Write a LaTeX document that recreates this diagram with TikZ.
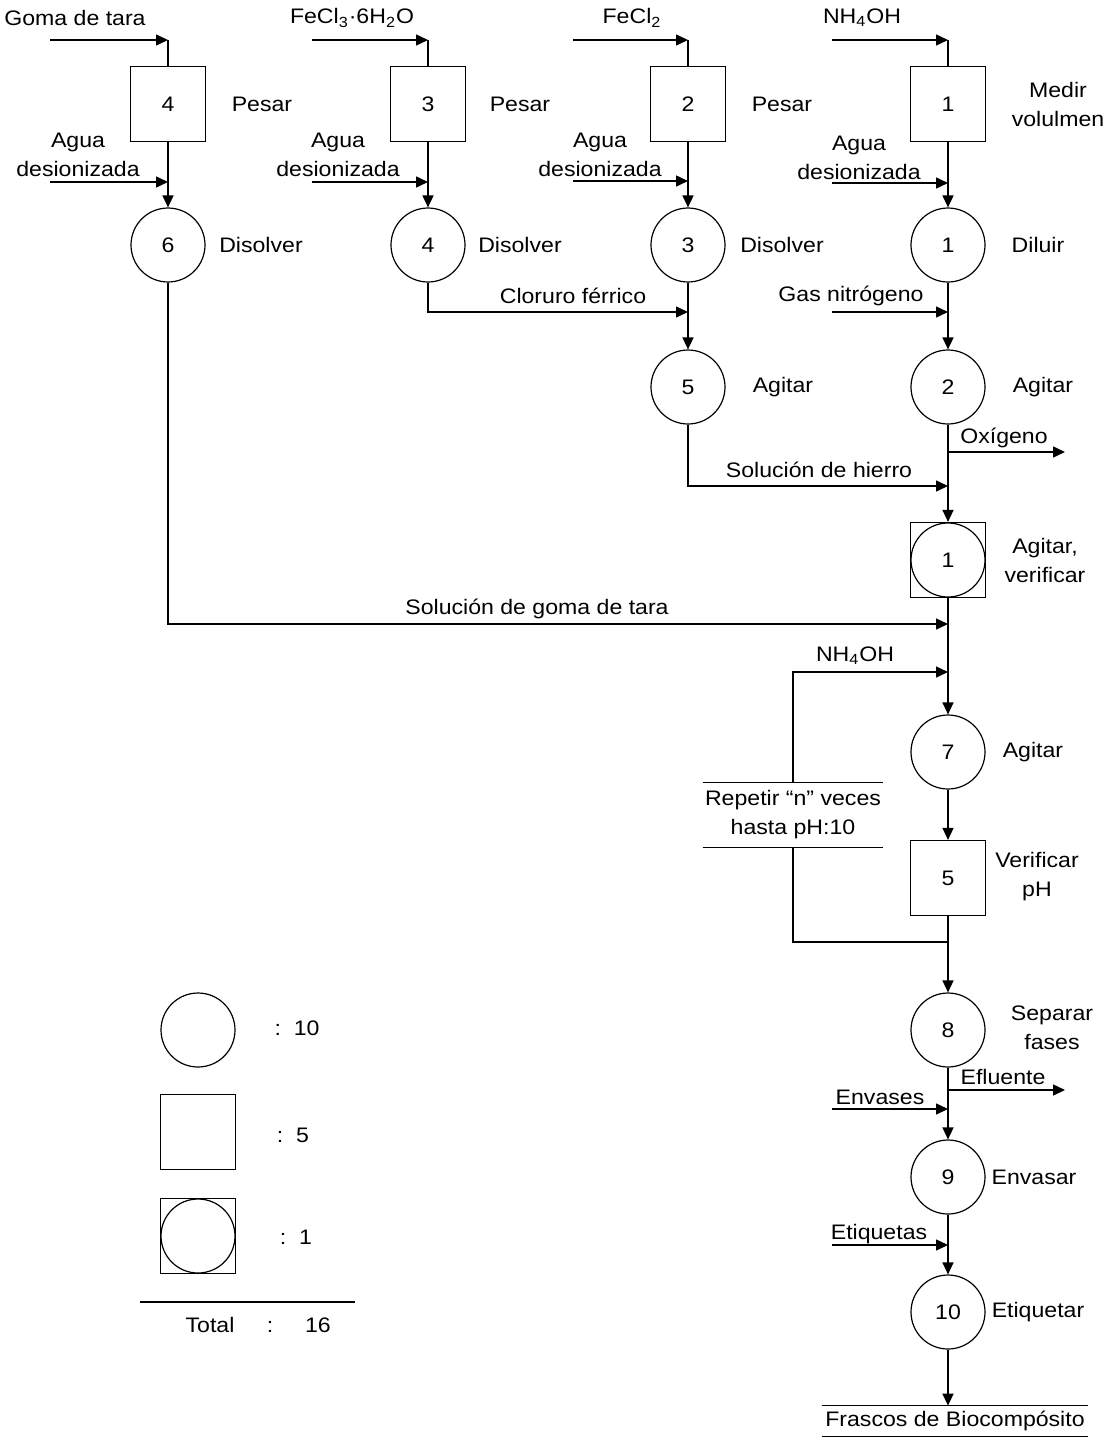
\documentclass[tikz,border=0pt]{standalone}
\usepackage{fontspec}
\setmainfont{Liberation Sans}[FakeStretch=1.1]
\usetikzlibrary{arrows.meta}
\tikzset{
  oper/.style={circle, draw, line width=0.6pt, minimum size=37pt, inner sep=0pt},
  insp/.style={draw, line width=0.6pt, minimum size=37.5pt, inner sep=0pt},
  flujo/.style={line width=0.75pt, -{Triangle[length=6pt,width=5.5pt]}},
  linea/.style={line width=0.75pt},
  txt/.style={inner sep=1pt, align=center},
}
\begin{document}
\begin{tikzpicture}[x=0.5pt, y=-0.5pt, every node/.style={font=\fontsize{10.5}{14.5}\selectfont}]
    \useasboundingbox (0,0) rectangle (1106,1440);

    % Columna 1: goma de tara
    \node[insp] (p4) at (168,104) {4};
    \node (tp4) at (262,104) {Pesar};
    \node[oper] (d6) at (168,245) {6};
    \node (td6) at (261,245) {Disolver};
    \node (lgoma) at (75,18) {Goma de tara};
    \coordinate (e1) at (50,40);
    \draw[flujo] (e1) -- (e1 -| p4);
    \draw[linea] (e1 -| p4) -- (p4.north);
    \node[txt] (la1) at (78,155) {Agua\\desionizada};
    \coordinate (a1) at (50,182);
    \draw[flujo] (a1) -- (a1 -| p4);
    \draw[flujo] (p4) -- (d6);

    % Columna 2: cloruro ferrico
    \node[insp] (p3) at (428,104) {3};
    \node (tp3) at (520,104) {Pesar};
    \node[oper] (d4) at (428,245) {4};
    \node (td4) at (520,245) {Disolver};
    \node (lfe3) at (352,18) {FeCl\textsubscript{3}·6H\textsubscript{2}O};
    \coordinate (e2) at (312,40);
    \draw[flujo] (e2) -- (e2 -| p3);
    \draw[linea] (e2 -| p3) -- (p3.north);
    \node[txt] (la2) at (338,155) {Agua\\desionizada};
    \coordinate (a2) at (312,182);
    \draw[flujo] (a2) -- (a2 -| p3);
    \draw[flujo] (p3) -- (d4);

    % Columna 3: cloruro ferroso
    \node[insp] (p2) at (688,104) {2};
    \node (tp2) at (782,104) {Pesar};
    \node[oper] (d3) at (688,245) {3};
    \node (td3) at (782,245) {Disolver};
    \node (lfe2) at (632,18) {FeCl\textsubscript{2}};
    \coordinate (e3) at (573,40);
    \draw[flujo] (e3) -- (e3 -| p2);
    \draw[linea] (e3 -| p2) -- (p2.north);
    \node[txt] (la3) at (600,155) {Agua\\desionizada};
    \coordinate (a3) at (573,181);
    \draw[flujo] (a3) -- (a3 -| p2);
    \draw[flujo] (p2) -- (d3);

    % Columna 4: hidroxido de amonio
    \node[insp] (p1) at (948,104) {1};
    \node[txt] (tp1) at (1058,104) {Medir\\volulmen};
    \node[oper] (dl1) at (948,245) {1};
    \node (tdl1) at (1038,245) {Diluir};
    \node (lnh) at (862,18) {NH\textsubscript{4}OH};
    \coordinate (e4) at (832,40);
    \draw[flujo] (e4) -- (e4 -| p1);
    \draw[linea] (e4 -| p1) -- (p1.north);
    \node[txt] (la4) at (859,158) {Agua\\desionizada};
    \coordinate (a4) at (832,183);
    \draw[flujo] (a4) -- (a4 -| p1);
    \draw[flujo] (p1) -- (dl1);

    % Mezcla de hierro
    \node[oper] (a5) at (688,387) {5};
    \node (ta5) at (783,387) {Agitar};
    \coordinate (cf) at (688,312);
    \draw[flujo] (d4.south) |- (cf);
    \node (lcf) at (573,296) {Cloruro férrico};
    \draw[flujo] (d3) -- (a5);
    \node[oper] (ag2) at (948,387) {2};
    \node (tag2) at (1043,387) {Agitar};
    \coordinate (gn) at (832,312);
    \draw[flujo] (gn) -- (gn -| dl1);
    \node (lgn) at (851,296) {Gas nitrógeno};
    \draw[flujo] (dl1) -- (ag2);

    % Oxigeno y solucion de hierro
    \coordinate (ox0) at (948,452);
    \coordinate (ox1) at (1065,452);
    \draw[flujo] (ox0) -- (ox1);
    \node (lox) at (1004,438) {Oxígeno};
    \coordinate (sh) at (948,486);
    \draw[flujo] (a5.south) |- (sh);
    \node (lsh) at (819,470) {Solución de hierro};

    % Operacion combinada
    \node[insp] (comb) at (948,560) {};
    \node[oper] (combc) at (948,560) {1};
    \node[txt] (tcomb) at (1045,560) {Agitar,\\verificar};
    \draw[flujo] (ag2) -- (comb);
    \coordinate (sg) at (948,624);
    \draw[flujo] (d6.south) |- (sg);
    \node (lsg) at (537,609) {Solución de goma de tara};

    % Ajuste de pH
    \node[oper] (ag7) at (948,752) {7};
    \node (tag7) at (1033,752) {Agitar};
    \draw[flujo] (comb) -- (ag7);
    \node[txt, minimum width=86pt, minimum height=32pt] (rep) at (793,815) {Repetir “n” veces\\hasta pH:10};
    \draw[linea] (rep.north west) -- (rep.north east);
    \draw[linea] (rep.south west) -- (rep.south east);
    \coordinate (nh) at (948,672);
    \draw[flujo] (rep.north) |- (nh);
    \node (lnh2) at (855,656) {NH\textsubscript{4}OH};
    \node[insp] (v5) at (948,878) {5};
    \node[txt] (tv5) at (1037,877) {Verificar\\pH};
    \draw[flujo] (ag7) -- (v5);
    \coordinate (rb) at (948,942);
    \draw[linea] (rb) -| (rep.south);

    % Separacion y envasado
    \node[oper] (s8) at (948,1030) {8};
    \node[txt] (ts8) at (1052,1028) {Separar\\fases};
    \draw[flujo] (v5) -- (s8);
    \coordinate (ef0) at (948,1090);
    \coordinate (ef1) at (1065,1090);
    \draw[flujo] (ef0) -- (ef1);
    \node (lef) at (1003,1077) {Efluente};
    \coordinate (en) at (832,1109);
    \draw[flujo] (en) -- (en -| s8);
    \node (len) at (880,1097) {Envases};
    \node[oper] (e9) at (948,1177) {9};
    \node (te9) at (1034,1177) {Envasar};
    \draw[flujo] (s8) -- (e9);
    \coordinate (et) at (832,1245);
    \draw[flujo] (et) -- (et -| e9);
    \node (let) at (879,1234) {Etiquetas};
    \node[oper] (et10) at (948,1312) {10};
    \node (tet10) at (1038,1312) {Etiquetar};
    \draw[flujo] (e9) -- (et10);

    % Producto final
    \node[txt, minimum width=133pt, minimum height=15pt] (fr) at (955,1421) {Frascos de Biocompósito};
    \draw[linea] (fr.north west) -- (fr.north east);
    \draw[linea] (fr.south west) -- (fr.south east);
    \draw[flujo] (et10) -- (fr.north -| et10);

    % Resumen
    \node[oper] (lc) at (198,1030) {};
    \node (nc) at (297,1028) {:\ \ 10};
    \node[insp] (ls) at (198,1132) {};
    \node (ns) at (293,1135) {:\ \ 5};
    \node[insp] (lb) at (198,1236) {};
    \node[oper] (lbc) at (198,1236) {};
    \node (nb) at (296,1237) {:\ \ 1};
    \draw[linea] (140,1302) -- (355,1302);
    \node[anchor=base] (tot) at (210,1332) {Total};
    \node[anchor=base] (tots) at (270,1332) {:};
    \node[anchor=base] (totn) at (318,1332) {16};
\end{tikzpicture}
\end{document}
